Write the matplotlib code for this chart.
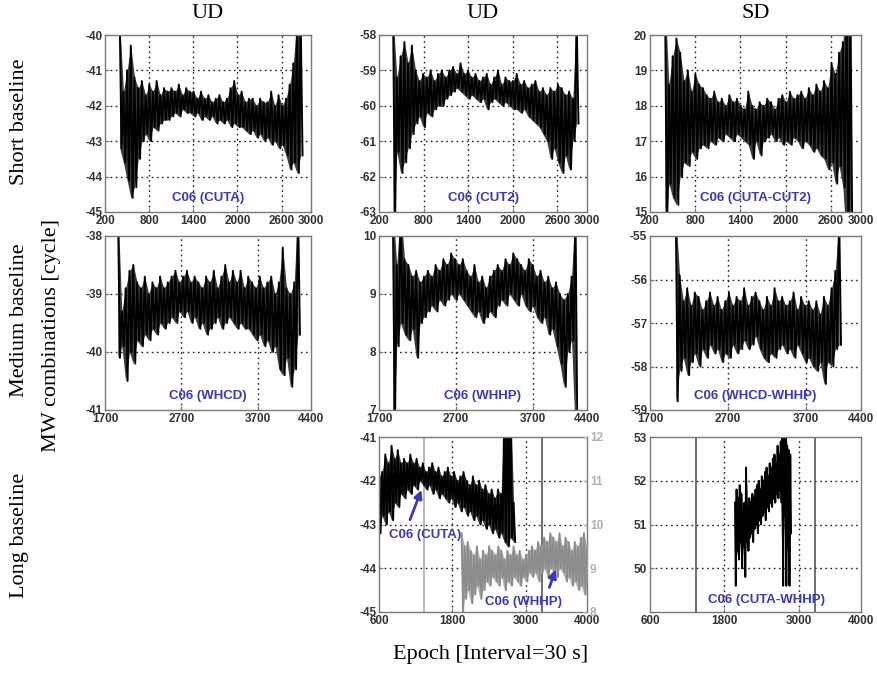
import numpy as np
import matplotlib.pyplot as plt

# ---- data (upper / lower envelope of each MW trace) ----
# short baseline, UD CUTA
cuta_s_span = (400, 2860)
cuta_s_hi = [-39.6, -41.6, -41.0, -40.3, -41.2, -41.5, -41.3, -41.7, -41.4, -41.6,
             -41.3, -41.7, -41.5, -41.6, -41.5, -41.6, -41.4, -41.7, -41.5, -41.6,
             -41.6, -41.8, -41.6, -41.8, -41.7, -41.9, -41.8, -41.7, -41.9, -41.8,
             -41.5, -41.3, -41.7, -41.6, -41.9, -41.8, -41.8, -42.0, -41.8, -41.9,
             -41.9, -41.6, -42.0, -41.7, -42.0, -41.8, -41.4, -40.8, -39.6, -39.6]
cuta_s_lo = [-43.2, -43.6, -44.1, -44.6, -44.3, -43.5, -43.0, -42.8, -43.0, -42.6,
             -42.7, -42.5, -42.4, -42.4, -42.3, -42.2, -42.3, -42.1, -42.2, -42.2,
             -42.3, -42.2, -42.4, -42.3, -42.4, -42.3, -42.5, -42.4, -42.5, -42.4,
             -42.6, -42.5, -42.6, -42.6, -42.7, -42.8, -42.7, -42.9, -42.8, -43.0,
             -42.9, -43.1, -43.0, -43.2, -43.1, -43.4, -43.8, -43.6, -43.9, -43.4]

# short baseline, UD CUT2
cut2_s_span = (390, 2860)
cut2_s_hi = [-57.5, -59.2, -58.6, -58.2, -58.8, -58.3, -59.0, -59.3, -59.1, -59.2,
             -59.0, -59.3, -59.1, -59.0, -59.2, -59.0, -58.9, -59.1, -58.8, -59.1,
             -59.0, -59.2, -59.1, -59.3, -59.2, -59.1, -59.4, -59.2, -59.0, -59.4,
             -59.2, -59.3, -59.3, -59.1, -59.4, -59.3, -59.5, -59.4, -59.3, -59.6,
             -59.5, -59.7, -59.5, -59.6, -59.4, -59.5, -59.7, -59.6, -59.8, -57.5]
cut2_s_lo = [-63.5, -61.3, -61.9, -61.6, -61.2, -60.8, -60.5, -60.3, -60.6, -60.2,
             -60.3, -60.1, -60.0, -60.0, -59.8, -59.7, -59.6, -59.5, -59.6, -59.7,
             -59.8, -59.7, -59.8, -59.9, -59.8, -60.1, -59.9, -59.8, -59.9, -60.0,
             -59.9, -60.0, -60.1, -60.1, -60.2, -60.1, -60.3, -60.4, -60.5, -60.6,
             -60.8, -61.0, -61.5, -61.2, -61.6, -61.9, -61.4, -61.8, -61.0, -60.5]

# short baseline, SD CUTA-CUT2
sd_s_span = (400, 2860)
sd_s_hi = [21.0, 18.6, 19.4, 19.9, 19.5, 18.7, 19.0, 18.4, 18.9, 18.6,
           18.5, 18.3, 18.2, 18.4, 18.1, 18.2, 18.0, 18.3, 18.1, 18.2,
           18.0, 17.9, 18.4, 18.0, 17.9, 18.1, 18.0, 18.2, 18.1, 17.9,
           18.2, 18.3, 18.1, 18.4, 18.2, 18.3, 18.4, 18.2, 18.5, 18.3,
           18.6, 18.4, 18.7, 18.5, 19.2, 18.9, 19.5, 19.8, 21.0, 21.0]
sd_s_lo = [14.0, 15.8, 15.4, 15.2, 16.0, 16.4, 16.3, 16.7, 16.5, 16.8,
           16.9, 16.8, 17.0, 16.9, 17.1, 17.0, 17.2, 17.1, 17.0, 17.2,
           17.1, 17.0, 16.9, 16.5, 17.0, 16.6, 17.0, 17.1, 17.2, 17.0,
           17.1, 16.9, 17.0, 16.9, 17.1, 17.0, 16.8, 17.0, 16.9, 16.7,
           16.8, 16.6, 16.5, 16.2, 16.4, 15.8, 16.3, 15.7, 14.0, 14.0]

# medium baseline, UD WHCD
whcd_m_span = (1870, 4230)
whcd_m_hi = [-37.5, -39.3, -38.9, -38.6, -38.5, -38.8, -38.9, -38.7, -39.0, -38.8,
             -38.9, -38.7, -38.9, -38.8, -38.7, -38.6, -38.8, -38.7, -38.6, -38.8,
             -38.7, -38.8, -38.9, -38.7, -38.8, -38.6, -38.9, -38.7, -38.5, -38.8,
             -38.6, -38.8, -38.6, -38.9, -38.7, -38.8, -38.9, -38.7, -38.9, -38.8,
             -38.7, -39.0, -38.8, -38.2, -38.9, -39.0, -38.8, -37.5]
whcd_m_lo = [-40.1, -39.9, -40.5, -40.0, -40.2, -39.8, -39.9, -39.7, -39.8, -39.6,
             -39.7, -39.5, -39.6, -39.5, -39.4, -39.5, -39.3, -39.4, -39.3, -39.5,
             -39.4, -39.6, -39.5, -39.7, -39.6, -39.5, -39.4, -39.6, -39.5, -39.4,
             -39.5, -39.6, -39.5, -39.6, -39.6, -39.7, -39.8, -39.7, -39.9, -39.8,
             -40.0, -39.9, -40.3, -40.4, -40.1, -40.6, -40.3, -39.7]

# medium baseline, UD WHHP
whhp_m_span = (1880, 4250)
whhp_m_hi = [10.5, 9.5, 10.5, 9.6, 9.5, 9.3, 9.4, 9.2, 9.3, 9.4,
             9.3, 9.5, 9.4, 9.6, 9.5, 9.7, 9.6, 9.5, 9.6, 9.4,
             9.3, 9.5, 9.2, 9.3, 9.1, 9.3, 9.4, 9.5, 9.4, 9.6,
             9.5, 9.7, 9.6, 9.5, 9.4, 9.6, 9.5, 9.3, 9.4, 9.2,
             9.3, 9.1, 9.2, 9.0, 8.9, 9.0, 9.3, 10.5]
whhp_m_lo = [6.5, 8.1, 8.5, 8.3, 8.2, 8.4, 7.9, 8.5, 8.6, 8.7,
             8.8, 8.7, 8.9, 8.8, 8.9, 9.0, 8.9, 9.0, 8.9, 8.8,
             8.7, 8.6, 8.7, 8.5, 8.6, 8.7, 8.6, 8.8, 8.9, 8.8,
             9.0, 8.9, 8.8, 9.0, 8.8, 8.7, 8.8, 8.6, 8.5, 8.6,
             8.3, 8.4, 8.1, 7.8, 7.4, 8.0, 8.2, 6.5]

# medium baseline, SD WHCD-WHHP
sd_m_span = (2030, 4120)
sd_m_hi = [-54.5, -55.9, -56.5, -56.2, -56.6, -56.3, -56.4, -56.7, -56.5, -56.3,
           -56.6, -56.4, -56.7, -56.5, -56.3, -56.6, -56.4, -56.5, -56.2, -56.6,
           -56.4, -56.3, -56.5, -56.7, -56.4, -56.6, -56.2, -56.5, -56.4, -56.6,
           -56.5, -56.3, -56.7, -56.4, -56.6, -56.5, -56.7, -56.5, -56.8, -56.4,
           -56.6, -56.2, -55.8, -54.5]
sd_m_lo = [-58.8, -58.1, -57.8, -58.2, -57.9, -57.7, -58.0, -57.6, -57.8, -57.5,
           -57.7, -57.6, -57.9, -57.7, -57.8, -57.5, -57.7, -57.6, -57.4, -57.6,
           -57.5, -57.3, -57.6, -57.8, -57.9, -57.7, -57.8, -57.6, -57.5, -57.7,
           -57.6, -57.8, -57.5, -57.7, -57.9, -57.8, -58.0, -58.1, -57.9, -58.4,
           -57.9, -58.0, -57.6, -57.5]

# long baseline, UD CUTA (left axis) and WHHP (right axis)
cuta_l_span = (600, 2800)
cuta_l_hi = [-41.9, -41.8, -41.4, -41.6, -41.2, -41.5, -41.3, -41.6, -41.5, -41.6,
             -41.4, -41.6, -41.5, -41.7, -41.6, -41.8, -41.7, -41.6, -41.8, -41.7,
             -41.9, -41.8, -41.7, -41.9, -41.8, -42.0, -41.9, -41.8, -42.0, -42.1,
             -41.9, -42.1, -42.0, -42.2, -42.1, -42.3, -42.2, -42.4, -42.2, -42.3,
             -40.5, -40.0, -40.0, -42.5]
cuta_l_lo = [-43.2, -42.8, -43.0, -42.7, -42.9, -42.5, -42.6, -42.3, -42.4, -42.2,
             -42.3, -42.1, -42.2, -42.0, -42.1, -42.2, -42.1, -42.3, -42.2, -42.4,
             -42.3, -42.4, -42.5, -42.4, -42.6, -42.5, -42.7, -42.6, -42.8, -42.7,
             -42.9, -42.8, -43.0, -42.9, -43.1, -43.0, -43.2, -43.1, -43.3, -43.2,
             -43.4, -43.5, -43.3, -43.4]
whhp_l_span = (1950, 4000)
whhp_l_hi = [9.8, 9.5, 9.6, 9.4, 9.3, 9.5, 9.2, 9.4, 9.3, 9.5,
             9.4, 9.3, 9.5, 9.4, 9.2, 9.4, 9.3, 9.5, 9.3, 9.4,
             9.2, 9.3, 9.4, 9.5, 9.4, 9.6, 9.5, 9.7, 9.6, 9.8,
             9.7, 9.6, 9.8, 9.5, 9.7, 9.6, 9.4, 9.6, 9.5, 9.7,
             9.8, 9.5]
whhp_l_lo = [8.0, 8.3, 8.5, 8.2, 8.4, 8.6, 8.3, 8.5, 8.7, 8.6,
             8.8, 8.7, 8.6, 8.8, 8.5, 8.7, 8.6, 8.8, 8.7, 8.6,
             8.8, 8.7, 8.9, 8.8, 8.9, 8.7, 8.9, 9.0, 8.8, 9.0,
             8.9, 8.8, 9.0, 8.9, 8.7, 8.8, 8.6, 8.7, 8.5, 8.6,
             8.4, 8.7]

# long baseline, SD CUTA-WHHP
sd_l_span = (1970, 2860)
sd_l_hi = [51.5, 51.8, 51.6, 51.9, 51.7, 51.3, 51.5, 52.3, 51.4, 51.6,
           51.5, 51.7, 51.6, 51.8, 51.9, 52.0, 51.8, 52.1, 52.0, 52.2,
           52.3, 52.1, 52.4, 52.3, 52.5, 52.6, 52.4, 52.8, 52.6, 52.9,
           53.2, 52.9, 53.2, 52.8, 52.7, 52.6]
sd_l_lo = [49.6, 50.4, 50.2, 50.6, 50.0, 50.5, 49.8, 50.6, 50.4, 50.7,
           50.8, 50.6, 50.9, 51.0, 50.8, 51.1, 51.0, 51.2, 51.3, 51.1,
           51.4, 51.3, 51.5, 51.4, 51.6, 51.5, 51.7, 51.6, 51.8, 51.5,
           49.6, 51.2, 49.6, 50.5, 49.6, 50.8]

long_marks = [1340, 3260]   # solid vertical lines in long-baseline panels

short_xticks = [200, 800, 1400, 2000, 2600, 3000]
medium_xticks = [1700, 2700, 3700, 4400]
long_xticks = [600, 1800, 3000, 4000]

col_titles = ["UD", "UD", "SD"]
row_titles = ["Short baseline", "Medium baseline", "Long baseline"]

BLUE = "#3a3ab4"
FRAME = "#7a7a7a"
TICKFONT = dict(family="Liberation Sans", size=8.5, weight="bold")


def draw_trace(ax, span, hi, lo, color="black", fill="#3c3c3c", lw=1.4):
    # grey band between the envelopes, with a zig-zag on top for the noisy look
    n = len(hi)
    ep = np.linspace(span[0], span[1], n)
    step = (span[1] - span[0]) / (n - 1)
    ax.fill_between(ep, hi, lo, color=fill, lw=0, zorder=2)
    x = np.empty(2 * n)
    y = np.empty(2 * n)
    x[0::2] = ep
    x[1::2] = ep + step / 2
    y[0::2] = hi
    y[1::2] = lo
    ax.plot(x, y, color=color, lw=lw, zorder=2)


def setup(ax, xlim, xticks, ylim, yticks, label, label_x=0.5, label_y=0.08):
    ax.set_xlim(*xlim)
    ax.set_ylim(*ylim)
    ax.set_xticks(xticks)
    ax.set_yticks(yticks)
    ax.set_xticklabels([str(t) for t in xticks], **TICKFONT, color="#333333")
    ax.set_yticklabels([str(t) for t in yticks], **TICKFONT, color="#333333")
    ax.tick_params(direction="in", length=3, width=0.8, color=FRAME, pad=2)
    for sp in ax.spines.values():
        sp.set_color(FRAME)
        sp.set_linewidth(1.0)
    # dotted grid on interior ticks only
    for t in xticks[1:-1]:
        ax.axvline(t, color="#222222", lw=1.0, ls=(0, (1.2, 2.5)), zorder=0)
    for t in yticks[1:-1]:
        ax.axhline(t, color="#222222", lw=1.0, ls=(0, (1.2, 2.5)), zorder=0)
    if label:
        ax.text(label_x, label_y, label, transform=ax.transAxes, ha="center",
                va="center", color=BLUE, fontsize=9.5, fontweight="bold",
                family="Liberation Sans", zorder=5)


fig = plt.figure(figsize=(8.77, 6.73), dpi=100)
W, H = 877.0, 673.0
lefts = [105, 379, 650]
widths = [206, 208, 211]
tops = [35, 236, 437]
bottoms = [212, 410, 612]


def add_ax(r, c):
    return fig.add_axes([lefts[c] / W, 1 - bottoms[r] / H, widths[c] / W,
                         (bottoms[r] - tops[r]) / H])


# row 1 - short baseline
ax = add_ax(0, 0)
draw_trace(ax, cuta_s_span, cuta_s_hi, cuta_s_lo)
setup(ax, (200, 3000), short_xticks, (-45, -40), [-45, -44, -43, -42, -41, -40], "C06 (CUTA)")
ax = add_ax(0, 1)
draw_trace(ax, cut2_s_span, cut2_s_hi, cut2_s_lo)
setup(ax, (200, 3000), short_xticks, (-63, -58), [-63, -62, -61, -60, -59, -58], "C06 (CUT2)")
ax = add_ax(0, 2)
draw_trace(ax, sd_s_span, sd_s_hi, sd_s_lo)
setup(ax, (200, 3000), short_xticks, (15, 20), [15, 16, 17, 18, 19, 20], "C06 (CUTA-CUT2)")

# row 2 - medium baseline
ax = add_ax(1, 0)
draw_trace(ax, whcd_m_span, whcd_m_hi, whcd_m_lo)
setup(ax, (1700, 4400), medium_xticks, (-41, -38), [-41, -40, -39, -38], "C06 (WHCD)")
ax = add_ax(1, 1)
draw_trace(ax, whhp_m_span, whhp_m_hi, whhp_m_lo)
setup(ax, (1700, 4400), medium_xticks, (7, 10), [7, 8, 9, 10], "C06 (WHHP)")
ax = add_ax(1, 2)
draw_trace(ax, sd_m_span, sd_m_hi, sd_m_lo)
setup(ax, (1700, 4400), medium_xticks, (-59, -55), [-59, -58, -57, -56, -55], "C06 (WHCD-WHHP)")

# row 3 - long baseline (UD with twin axis)
ax = add_ax(2, 1)
ax.axvline(long_marks[0], color="#aaaaaa", lw=1.2, zorder=1)
ax.axvline(long_marks[1], color="#555555", lw=1.2, zorder=1)
draw_trace(ax, cuta_l_span, cuta_l_hi, cuta_l_lo)
setup(ax, (600, 4000), long_xticks, (-45, -41), [-45, -44, -43, -42, -41], None)
ax2 = ax.twinx()
ax2.set_ylim(8, 12)
ax2.set_yticks([8, 9, 10, 11, 12])
ax2.set_yticklabels(["8", "9", "10", "11", "12"], **TICKFONT, color="#b0b0b0")
ax2.tick_params(direction="in", length=3, color="#b0b0b0", pad=2)
for sp in ax2.spines.values():
    sp.set_visible(False)
draw_trace(ax2, whhp_l_span, whhp_l_hi, whhp_l_lo, color="#8c8c8c", fill="#b4b4b4")
ax2.annotate("", xy=(1310, 10.85), xytext=(1090, 10.05),
             arrowprops=dict(arrowstyle="-|>", color=BLUE, lw=2, mutation_scale=12))
ax2.text(1357, 9.75, "C06 (CUTA)", ha="center", va="center", color=BLUE,
         fontsize=9.5, fontweight="bold", family="Liberation Sans")
ax2.annotate("", xy=(3500, 9.03), xytext=(3370, 8.5),
             arrowprops=dict(arrowstyle="-|>", color=BLUE, lw=2, mutation_scale=12))
ax2.text(2967, 8.23, "C06 (WHHP)", ha="center", va="center", color=BLUE,
         fontsize=9.5, fontweight="bold", family="Liberation Sans")

ax = add_ax(2, 2)
for m in long_marks:
    ax.axvline(m, color="#555555", lw=1.2, zorder=1)
draw_trace(ax, sd_l_span, sd_l_hi, sd_l_lo)
setup(ax, (600, 4000), long_xticks, (49, 53), [49, 50, 51, 52, 53], "C06 (CUTA-WHHP)",
      label_x=0.55, label_y=0.07)
ax.get_yticklabels()[0].set_visible(False)

# column / row titles
for c, t in enumerate(col_titles):
    fig.text((lefts[c] + widths[c] / 2) / W, 1 - 13 / H, t, ha="center", va="center",
             family="Liberation Serif", fontsize=16)
for y, t in zip([122, 320, 535], row_titles):
    fig.text(20 / W, 1 - y / H, t, rotation=90, ha="center", va="center",
             family="Liberation Serif", fontsize=16)
fig.text(52 / W, 1 - 335 / H, "MW combinations [cycle]", rotation=90, ha="center",
         va="center", family="Liberation Serif", fontsize=16)
fig.text(491 / W, 1 - 655 / H, "Epoch [Interval=30 s]", ha="center", va="center",
         family="Liberation Serif", fontsize=16)

fig.savefig("out.png", dpi=100)
